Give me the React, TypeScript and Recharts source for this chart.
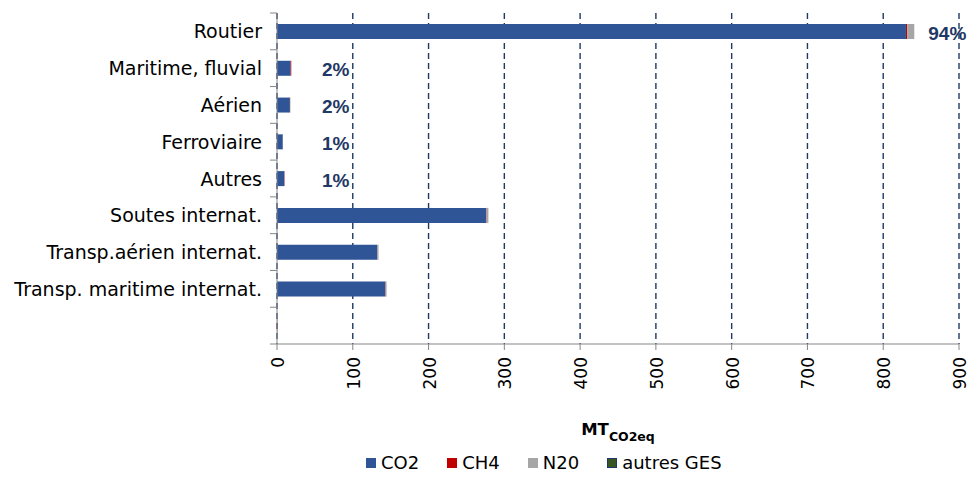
import { Bar, BarChart, CartesianGrid, Label, LabelList, Legend, XAxis, YAxis } from "recharts";

const categories = [
  "Routier",
  "Maritime, fluvial",
  "Aérien",
  "Ferroviaire",
  "Autres",
  "Soutes internat.",
  "Transp.aérien internat.",
  "Transp. maritime internat.",
  "",
];

// emissions in MT CO2eq per gas
const co2 = [830, 18, 17, 7.6, 9.6, 276, 132.5, 143, 0];
const ch4 = [1.5, 0.8, 0.2, 0.1, 0.4, 0.5, 0.2, 0.4, 0.4];
const n2o = [9.5, 0.2, 0.5, 0.2, 0.2, 2.5, 1.3, 1.2, 0];
const autresGes = [0, 0, 0, 0, 0, 0, 0, 0, 0];

// the first five categories are domestic transport, shares are computed on them
const domesticCount = 5;

const xTicks = [0, 100, 200, 300, 400, 500, 600, 700, 800, 900];

const series = [
  { key: "co2", name: "CO2", color: "#2f5597", border: "#2f5597" },
  { key: "ch4", name: "CH4", color: "#c00000", border: "#c00000" },
  { key: "n2o", name: "N20", color: "#a6a6a6", border: "#a6a6a6" },
  { key: "autres", name: "autres GES", color: "#375623", border: "#1f3864" },
] as const;

const totals = categories.map((_, i) => co2[i] + ch4[i] + n2o[i] + autresGes[i]);
const domesticTotal = totals.slice(0, domesticCount).reduce((a, b) => a + b, 0);

const data = categories.map((name, i) => ({
  name,
  co2: co2[i],
  ch4: ch4[i],
  n2o: n2o[i],
  autres: autresGes[i],
  share: i < domesticCount ? `${Math.round((totals[i] / domesticTotal) * 100)}%` : "",
}));

const PLOT_LEFT = 277;
const AXIS_GREY = "#868686";
const NAVY = "#1f3864";
const FONT = "'DejaVu Sans', Verdana, sans-serif";

function CategoryTick(props: any) {
  const { y, payload, index, visibleTicksCount } = props;
  const half = payload?.offset ?? 18.4;
  const last = index === visibleTicksCount - 1;
  return (
    <g>
      <line x1={PLOT_LEFT - 7} x2={PLOT_LEFT} y1={y - half} y2={y - half} stroke={AXIS_GREY} />
      {last && <line x1={PLOT_LEFT - 7} x2={PLOT_LEFT} y1={y + half} y2={y + half} stroke={AXIS_GREY} />}
      <text x={PLOT_LEFT - 15} y={y + 7} textAnchor="end" fontFamily={FONT} fontSize={19} fill="#000">
        {payload.value}
      </text>
    </g>
  );
}

function ValueTick(props: any) {
  const { x, y, payload } = props;
  return (
    <text
      x={x + 1}
      y={y + 5}
      transform={`rotate(-90, ${x + 1}, ${y + 5})`}
      textAnchor="end"
      dominantBaseline="central"
      fontFamily={FONT}
      fontSize={17}
      fill="#000"
    >
      {payload.value}
    </text>
  );
}

function AxisTitle(props: any) {
  const { viewBox } = props;
  const cx = viewBox.x + viewBox.width / 2;
  return (
    <text x={cx} y={viewBox.y + 91} textAnchor="middle" fontFamily={FONT} fontWeight="bold" fill="#000">
      <tspan fontSize={16.5}>MT</tspan>
      <tspan fontSize={12.5} dy={6}>CO2eq</tspan>
    </text>
  );
}

// share label sits right of the stack end, but never closer to the axis than 60 units
function ShareLabel(props: any) {
  const { x, y, width, height, value } = props;
  if (!value) return null;
  const end = Number(x) + Number(width);
  const lx = Math.max(end + 14, PLOT_LEFT + 45);
  return (
    <text
      x={lx}
      y={Number(y) + Number(height) / 2 + 1.5}
      dominantBaseline="central"
      fontFamily="'Liberation Sans', Arial, sans-serif"
      fontWeight="bold"
      fontSize={19}
      fill={NAVY}
    >
      {value}
    </text>
  );
}

function LegendContent() {
  return (
    <div style={{ display: "flex", alignItems: "center", gap: 28, fontFamily: FONT, fontSize: 18, lineHeight: "20px" }}>
      {series.map((s) => (
        <div key={s.key} style={{ display: "flex", alignItems: "center" }}>
          <span
            style={{
              display: "inline-block",
              width: 10,
              height: 10,
              background: s.color,
              border: s.border !== s.color ? `1.5px solid ${s.border}` : "none",
              boxSizing: "border-box",
              marginRight: 5,
            }}
          />
          <span style={{ color: "#000" }}>{s.name}</span>
        </div>
      ))}
    </div>
  );
}

export default function App() {
  return (
    <div style={{ position: "absolute", left: 0, top: 0, width: 970, height: 486, background: "#fff" }}>
      <BarChart
        width={970}
        height={486}
        data={data}
        layout="vertical"
        margin={{ top: 13, right: 11, bottom: 0, left: 0 }}
        barSize={15}
      >
        <CartesianGrid horizontal={false} stroke={NAVY} strokeWidth={1.4} strokeDasharray="6 4" />
        <XAxis
          type="number"
          domain={[0, 900]}
          ticks={xTicks}
          interval={0}
          height={142}
          axisLine={{ stroke: AXIS_GREY }}
          tickLine={{ stroke: AXIS_GREY }}
          tickSize={6}
          tick={<ValueTick />}
        >
          <Label content={<AxisTitle />} />
        </XAxis>
        <YAxis
          type="category"
          dataKey="name"
          width={PLOT_LEFT}
          interval={0}
          axisLine={{ stroke: AXIS_GREY }}
          tickLine={false}
          tick={<CategoryTick />}
        />
        <Legend
          verticalAlign="middle"
          layout="horizontal"
          content={<LegendContent />}
          wrapperStyle={{ position: "absolute", left: 366, top: 453, width: "auto" }}
        />
        {series.map((s) => (
          <Bar key={s.key} dataKey={s.key} name={s.name} stackId="ges" fill={s.color} isAnimationActive={false}>
            {s.key === "n2o" && <LabelList dataKey="share" content={<ShareLabel />} />}
          </Bar>
        ))}
      </BarChart>
    </div>
  );
}
